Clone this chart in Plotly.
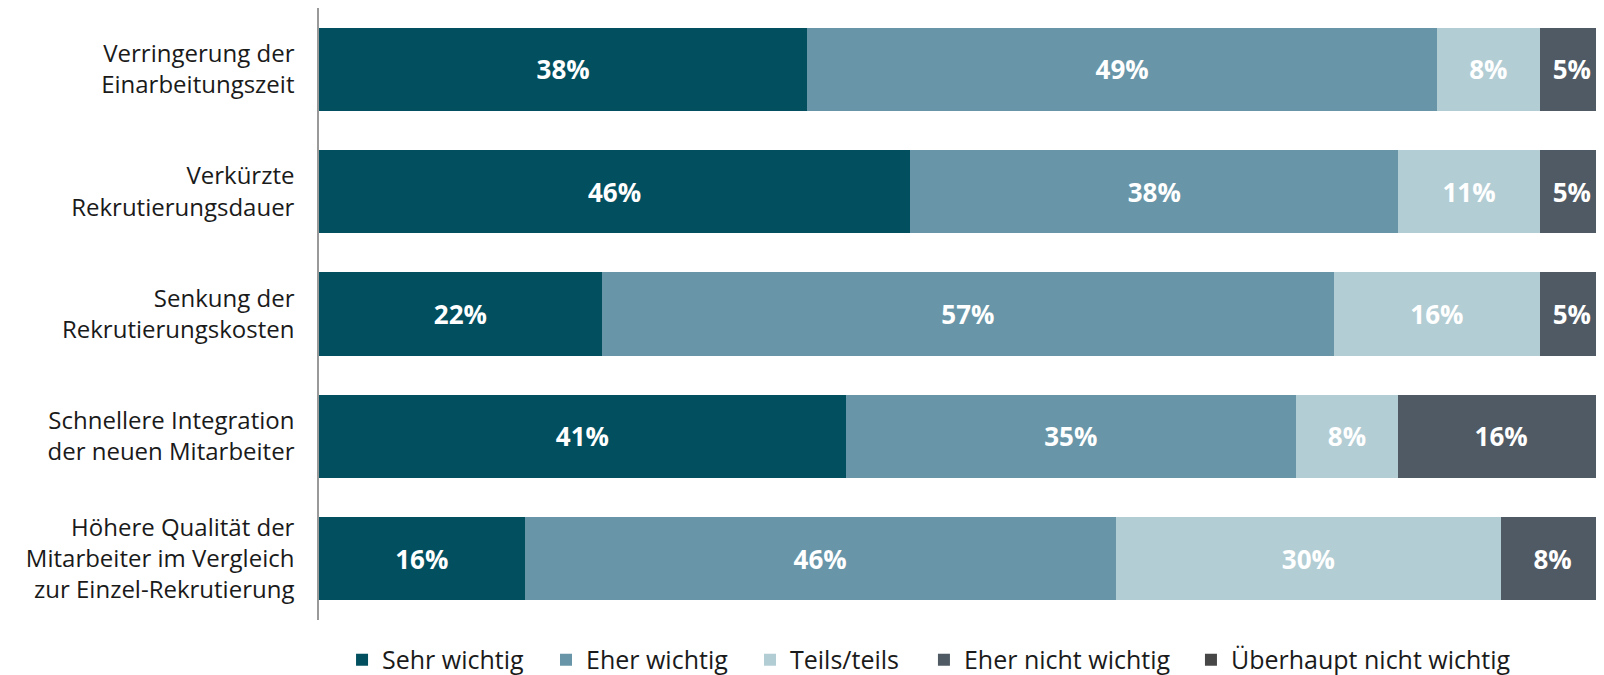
import plotly.graph_objects as go

categories = [
    "Verringerung der<br>Einarbeitungszeit",
    "Verkürzte<br>Rekrutierungsdauer",
    "Senkung der<br>Rekrutierungskosten",
    "Schnellere Integration<br>der neuen Mitarbeiter",
    "Höhere Qualität der<br>Mitarbeiter im Vergleich<br>zur Einzel-Rekrutierung",
]
series_names = ["Sehr wichtig", "Eher wichtig", "Teils/teils", "Eher nicht wichtig", "Überhaupt nicht wichtig"]
sehr_wichtig = [38, 46, 22, 41, 16]
eher_wichtig = [49, 38, 57, 35, 46]
teils_teils = [8, 11, 16, 8, 30]
eher_nicht_wichtig = [5, 5, 5, 16, 8]
ueberhaupt_nicht_wichtig = [0, 0, 0, 0, 0]
colors = ["#02505F", "#6896A8", "#B3CDD4", "#4F5A64", "#474747"]

series_values = [sehr_wichtig, eher_wichtig, teils_teils, eher_nicht_wichtig, ueberhaupt_nicht_wichtig]
legend_ids = ["legend", "legend2", "legend3", "legend4", "legend5"]
legend_x = [0.2093, 0.3371, 0.4649, 0.5739, 0.7412]
FONT = "Open Sans"

fig = go.Figure()
for name, vals, col, lid in zip(series_names, series_values, colors, legend_ids):
    fig.add_trace(go.Bar(
        y=categories, x=vals, name=name, orientation="h",
        marker=dict(color=col, line=dict(width=0)),
        text=[f"{v}%" if v > 0 else "" for v in vals],
        textposition="inside", insidetextanchor="middle",
        textfont=dict(family=FONT, size=26, color="white", weight="bold"),
        constraintext="none",
        hoverinfo="skip",
        legend=lid,
    ))

legend_common = dict(
    orientation="h", xref="container", yref="container",
    xanchor="left", y=0.0225, yanchor="middle",
    font=dict(family=FONT, size=25, color="#1a1a1a"),
    itemwidth=30, bgcolor="rgba(0,0,0,0)",
)
legends = {lid: dict(legend_common, x=lx) for lid, lx in zip(legend_ids, legend_x)}

fig.update_layout(
    barmode="stack",
    bargap=0.32,
    width=1596, height=667,
    margin=dict(l=311, r=0, t=0, b=55, autoexpand=False),
    plot_bgcolor="white", paper_bgcolor="white",
    font=dict(family=FONT, size=24, color="#1a1a1a"),
    showlegend=True,
    xaxis=dict(range=[0, 100], visible=False, fixedrange=True),
    yaxis=dict(
        autorange="reversed", showline=True, linecolor="#999999", linewidth=1.5,
        ticks="", ticklabelstandoff=18, showgrid=False, zeroline=False,
        tickfont=dict(family=FONT, size=24, color="#1a1a1a"),
    ),
    **legends,
)

fig.write_html("out.html")
